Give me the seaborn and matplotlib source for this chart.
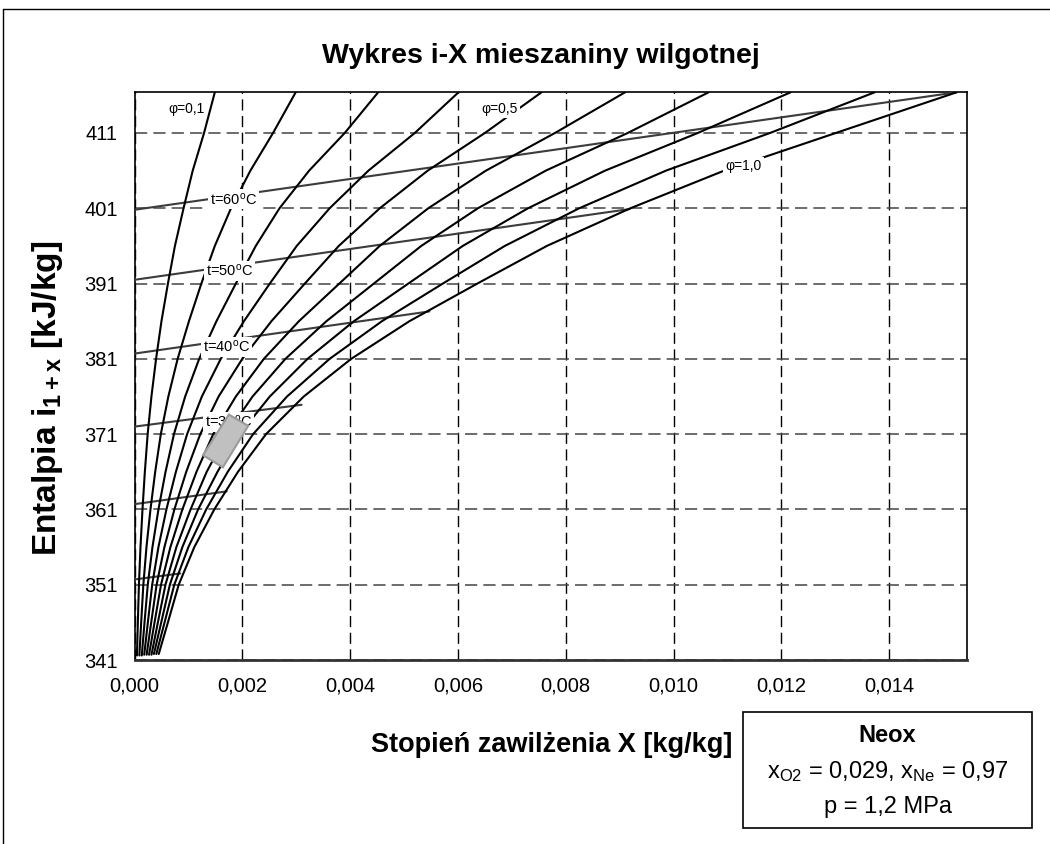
import numpy as np
import pandas as pd
import matplotlib
matplotlib.use("Agg")
import matplotlib.pyplot as plt
import seaborn as sns
from matplotlib.patches import Polygon, Rectangle
from matplotlib.lines import Line2D

# ---------------- data (X in 1e-3 kg/kg, i in kJ/kg) ----------------
phi_names = ["0,1", "0,2", "0,3", "0,4", "0,5", "0,6", "0,7", "0,8", "0,9", "1,0"]
i_bottom = [341.6, 341.6, 341.6, 341.7, 341.7, 341.7, 341.7, 341.8, 341.8, 341.8]
i_levels = [346, 351, 356, 361, 366, 371, 376, 381, 386, 391, 396, 401, 406, 411, 416.4]

x_phi_01 = [0.045, 0.062, 0.082, 0.111, 0.148, 0.192, 0.244, 0.314, 0.40, 0.50, 0.62, 0.75, 0.91, 1.08, 1.29, 1.49]
x_phi_02 = [0.09, 0.124, 0.164, 0.222, 0.296, 0.384, 0.488, 0.628, 0.80, 1.01, 1.24, 1.49, 1.79, 2.15, 2.57, 2.99]
x_phi_03 = [0.135, 0.186, 0.246, 0.333, 0.444, 0.576, 0.732, 0.94, 1.20, 1.52, 1.88, 2.25, 2.69, 3.24, 3.90, 4.52]
x_phi_04 = [0.18, 0.248, 0.328, 0.444, 0.592, 0.768, 0.976, 1.25, 1.60, 2.03, 2.51, 3.01, 3.62, 4.34, 5.20, 6.01]
x_phi_05 = [0.225, 0.31, 0.41, 0.555, 0.74, 0.96, 1.22, 1.56, 2.00, 2.54, 3.16, 3.79, 4.55, 5.44, 6.50, 7.55]
x_phi_06 = [0.27, 0.372, 0.492, 0.666, 0.888, 1.15, 1.46, 1.88, 2.40, 3.05, 3.80, 4.55, 5.45, 6.52, 7.80, 9.10]
x_phi_07 = [0.315, 0.434, 0.574, 0.777, 1.04, 1.34, 1.71, 2.19, 2.80, 3.56, 4.44, 5.32, 6.37, 7.63, 9.15, 10.65]
x_phi_08 = [0.36, 0.496, 0.656, 0.888, 1.18, 1.54, 1.95, 2.51, 3.21, 4.07, 5.08, 6.09, 7.30, 8.73, 10.45, 12.17]
x_phi_09 = [0.405, 0.558, 0.738, 1.00, 1.33, 1.73, 2.20, 2.83, 3.62, 4.59, 5.72, 6.87, 8.25, 9.86, 11.79, 13.73]
x_phi_10 = [0.45, 0.62, 0.82, 1.11, 1.48, 1.92, 2.44, 3.14, 4.02, 5.10, 6.36, 7.65, 9.20, 10.94, 13.01, 15.25]
x_phi_all = [x_phi_01, x_phi_02, x_phi_03, x_phi_04, x_phi_05,
             x_phi_06, x_phi_07, x_phi_08, x_phi_09, x_phi_10]

iso_t = [10, 20, 30, 40, 50, 60]
iso_i_start = [351.7, 361.7, 372.0, 381.7, 391.5, 400.8]
iso_x_end = [0.85, 1.71, 3.10, 5.47, 9.19, 15.25]
iso_i_end = [352.5, 363.4, 374.9, 387.3, 400.9, 416.4]

iso_label_t = [60, 50, 40, 30]
iso_label_x = [1.83, 1.77, 1.71, 1.74]
iso_label_i = [402.2, 392.7, 382.6, 372.6]

phi_label_text = ["0,1", "0,5", "1,0"]
phi_label_x = [0.97, 6.78, 11.30]
phi_label_i = [414.2, 414.2, 406.6]

zone_x = [1.75, 2.11, 1.64, 1.27]
zone_i = [373.6, 372.1, 366.6, 368.2]

x_ticks = [0.000, 0.002, 0.004, 0.006, 0.008, 0.010, 0.012, 0.014]
x_tick_labels = ["0,000", "0,002", "0,004", "0,006", "0,008", "0,010", "0,012", "0,014"]
y_ticks = [341, 351, 361, 371, 381, 391, 401, 411]

# ---------------- long-form tables ----------------
rows = []
for name, xs, ib in zip(phi_names, x_phi_all, i_bottom):
    for xv, iv in zip(xs, [ib] + i_levels):
        rows.append({"phi": name, "X": xv / 1000.0, "i": iv})
df_phi = pd.DataFrame(rows)

rows = []
for t, i0, xe, ie in zip(iso_t, iso_i_start, iso_x_end, iso_i_end):
    rows.append({"t": t, "X": 0.0, "i": i0})
    rows.append({"t": t, "X": xe / 1000.0, "i": ie})
df_iso = pd.DataFrame(rows)

# ---------------- style ----------------
sns.set_style("white")
plt.rcParams["font.family"] = ["Liberation Sans", "DejaVu Sans"]
plt.rcParams["mathtext.default"] = "regular"
for key in ["text.color", "axes.labelcolor", "xtick.color", "ytick.color"]:
    plt.rcParams[key] = "black"

fig = plt.figure(figsize=(10.5, 8.44), dpi=100)
ax = fig.add_axes([0.1281, 0.2180, 0.7926, 0.6726])

# isotherms (grey)
sns.lineplot(data=df_iso, x="X", y="i", units="t", estimator=None, sort=False,
             color="#3c3c3c", lw=1.5, ax=ax, zorder=3, legend=False)
# relative humidity curves (black)
sns.lineplot(data=df_phi, x="X", y="i", units="phi", estimator=None, sort=False,
             color="black", lw=1.5, ax=ax, zorder=4, legend=False)

ax.set_xlim(0, 0.01544)
ax.set_ylim(341, 416.4)
ax.set_xticks(x_ticks)
ax.set_xticklabels(x_tick_labels)
ax.set_yticks(y_ticks)
ax.set_yticklabels([str(v) for v in y_ticks])
ax.tick_params(axis="both", labelsize=14.5, length=6, width=1, direction="out",
               colors="black", pad=6)
ax.set_xlabel("")
ax.set_ylabel("")

ax.set_axisbelow(True)
ax.xaxis.grid(True, color="black", lw=1, ls=(0, (8, 4)))
ax.yaxis.grid(True, color="#444444", lw=1.1, ls=(0, (8, 4)))
for s in ["top", "right", "left"]:
    ax.spines[s].set_color("black")
    ax.spines[s].set_linewidth(1.2)
ax.spines["bottom"].set_color("#333333")
ax.spines["bottom"].set_linewidth(2)

# labels on the curves
for t, xv, iv in zip(iso_label_t, iso_label_x, iso_label_i):
    ax.text(xv / 1000.0, iv, "t=%d$^{o}$C" % t, fontsize=10.5, ha="center", va="center",
            zorder=6, bbox=dict(facecolor="white", edgecolor="none", pad=1.5))
for txt, xv, iv in zip(phi_label_text, phi_label_x, phi_label_i):
    ax.text(xv / 1000.0, iv, "\u03c6=" + txt, fontsize=10, ha="center", va="center",
            zorder=6, bbox=dict(facecolor="white", edgecolor="none", pad=1.5))

# grey working zone
ax.add_patch(Polygon(np.column_stack([np.array(zone_x) / 1000.0, zone_i]),
                     closed=True, facecolor="#c0c0c0", edgecolor="#9a9a9a",
                     lw=1.5, zorder=7))

# titles
fig.text(0.515, 0.934, "Wykres i-X mieszaniny wilgotnej", ha="center", va="center",
         fontsize=20.5, fontweight="bold")
fig.text(0.525, 0.117, "Stopień zawilżenia X [kg/kg]", ha="center", va="center",
         fontsize=19.5, fontweight="bold")
fig.text(0.045, 0.528, "Entalpia i$_{1+x}$ [kJ/kg]", ha="center", va="center",
         rotation=90, fontsize=24, fontweight="bold")

# chart-area border (partially cropped)
fig.add_artist(Line2D([3 / 1050, 3 / 1050], [0, 1 - 9 / 844], transform=fig.transFigure,
                      color="black", lw=1))
fig.add_artist(Line2D([3 / 1050, 1], [1 - 9 / 844, 1 - 9 / 844], transform=fig.transFigure,
                      color="black", lw=1))

# info box
bx0, by0, bx1, by1 = 743 / 1050, 1 - 828 / 844, 1032 / 1050, 1 - 712 / 844
fig.add_artist(Rectangle((bx0, by0), bx1 - bx0, by1 - by0, transform=fig.transFigure,
                         facecolor="white", edgecolor="black", lw=1.2))
cx = (bx0 + bx1) / 2
fig.text(cx, 1 - 735 / 844, "Neox", ha="center", va="center", fontsize=17,
         fontweight="bold")
fig.text(cx, 1 - 772 / 844, "x$_{O2}$ = 0,029, x$_{Ne}$ = 0,97", ha="center",
         va="center", fontsize=17)
fig.text(cx, 1 - 807 / 844, "p = 1,2 MPa", ha="center", va="center", fontsize=17)

fig.savefig("out.png", dpi=100)
